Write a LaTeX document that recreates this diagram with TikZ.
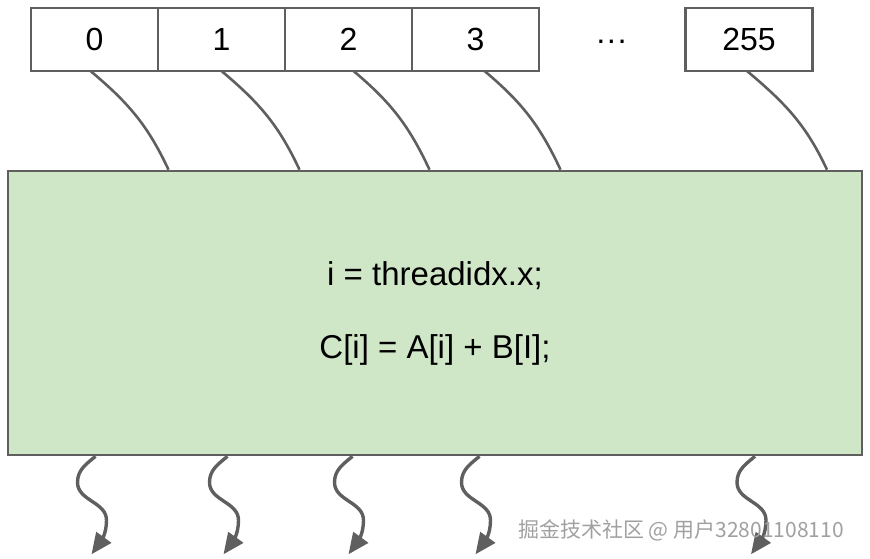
\documentclass[tikz,border=0pt]{standalone}
\usepackage{fontspec}
\setmainfont{Liberation Sans}
\newfontfamily\cjkfont{Noto Sans CJK SC}
\usepackage{tikz}
\usetikzlibrary{arrows.meta, positioning, calc}
\definecolor{kernelgreen}{RGB}{208,231,199}
\definecolor{edgegray}{RGB}{95,95,95}
\definecolor{markgray}{RGB}{160,160,160}
\tikzset{
  cell/.style={rectangle, draw=edgegray, line width=2.6pt, fill=white,
    minimum width=127pt, minimum height=63pt, outer sep=0pt, inner sep=0pt,
    font=\fontsize{32}{38}\selectfont},
  kernel/.style={rectangle, draw=edgegray, line width=2.6pt, fill=kernelgreen,
    minimum width=854pt, minimum height=284pt, align=center,
    font=\fontsize{33}{73}\selectfont},
  feed/.style={edgegray, line width=2.6pt},
  spawn/.style={-{Triangle[length=21pt, width=18pt]}, edgegray, line width=3.4pt},
}

\begin{document}
\begin{tikzpicture}[x=1pt, y=1pt]
  \useasboundingbox (0,0) rectangle (870,558);

  % thread index cells
  \node[cell] (cell0) at (94.5,518.5) {0};
  \node[cell, right=0pt of cell0] (cell1) {1};
  \node[cell, right=0pt of cell1] (cell2) {2};
  \node[cell, right=0pt of cell2] (cell3) {3};
  \node[font=\fontsize{32}{38}\selectfont, anchor=base]
    (dots) at ($(cell3.base)+(136,0)$) {···};
  \node[cell] (cell255) at (749,518.5) {255};

  % kernel body
  \node[kernel] (kernel) at (435,245)
    {i = threadidx.x;\\C[i] = A[i] + B[I];};

  \draw[feed] ($(cell0.south)+(-4,0)$) to[out=-40, in=115]
    ($(cell0.south |- kernel.north)+(74,0)$);
  \draw[feed] (cell1.south) to[out=-40, in=115]
    ($(cell1.south |- kernel.north)+(78,0)$);
  \draw[feed] ($(cell2.south)+(5,0)$) to[out=-40, in=115]
    ($(cell2.south |- kernel.north)+(81,0)$);
  \draw[feed] ($(cell3.south)+(9,0)$) to[out=-40, in=115]
    ($(cell3.south |- kernel.north)+(85,0)$);
  \draw[feed] ($(cell255.south)+(-2,0)$) to[out=-40, in=115]
    ($(cell255.south |- kernel.north)+(78,0)$);

  % one output per thread
  \draw[spawn] ($(cell0.south |- kernel.south)+(1,0)$)
    to[out=-140, in=90] ++(-18,-26) to[out=-90, in=90] ++(29,-38)
    to[out=-90, in=54] ++(-15,-34);
  \draw[spawn] ($(cell1.south |- kernel.south)+(6,0)$)
    to[out=-140, in=90] ++(-18,-26) to[out=-90, in=90] ++(29,-38)
    to[out=-90, in=54] ++(-15,-34);
  \draw[spawn] ($(cell2.south |- kernel.south)+(4,0)$)
    to[out=-140, in=90] ++(-18,-26) to[out=-90, in=90] ++(29,-38)
    to[out=-90, in=54] ++(-15,-34);
  \draw[spawn] ($(cell3.south |- kernel.south)+(4,0)$)
    to[out=-140, in=90] ++(-18,-26) to[out=-90, in=90] ++(29,-38)
    to[out=-90, in=54] ++(-15,-34);
  \draw[spawn] ($(cell255.south |- kernel.south)+(6,0)$)
    to[out=-140, in=90] ++(-18,-26) to[out=-90, in=90] ++(29,-38)
    to[out=-90, in=54] ++(-15,-34);

  \node[font=\cjkfont\fontsize{21}{25}\selectfont, text=markgray]
    (mark) at (681,28) {掘金技术社区 @ 用户32801108110};
\end{tikzpicture}
\end{document}
